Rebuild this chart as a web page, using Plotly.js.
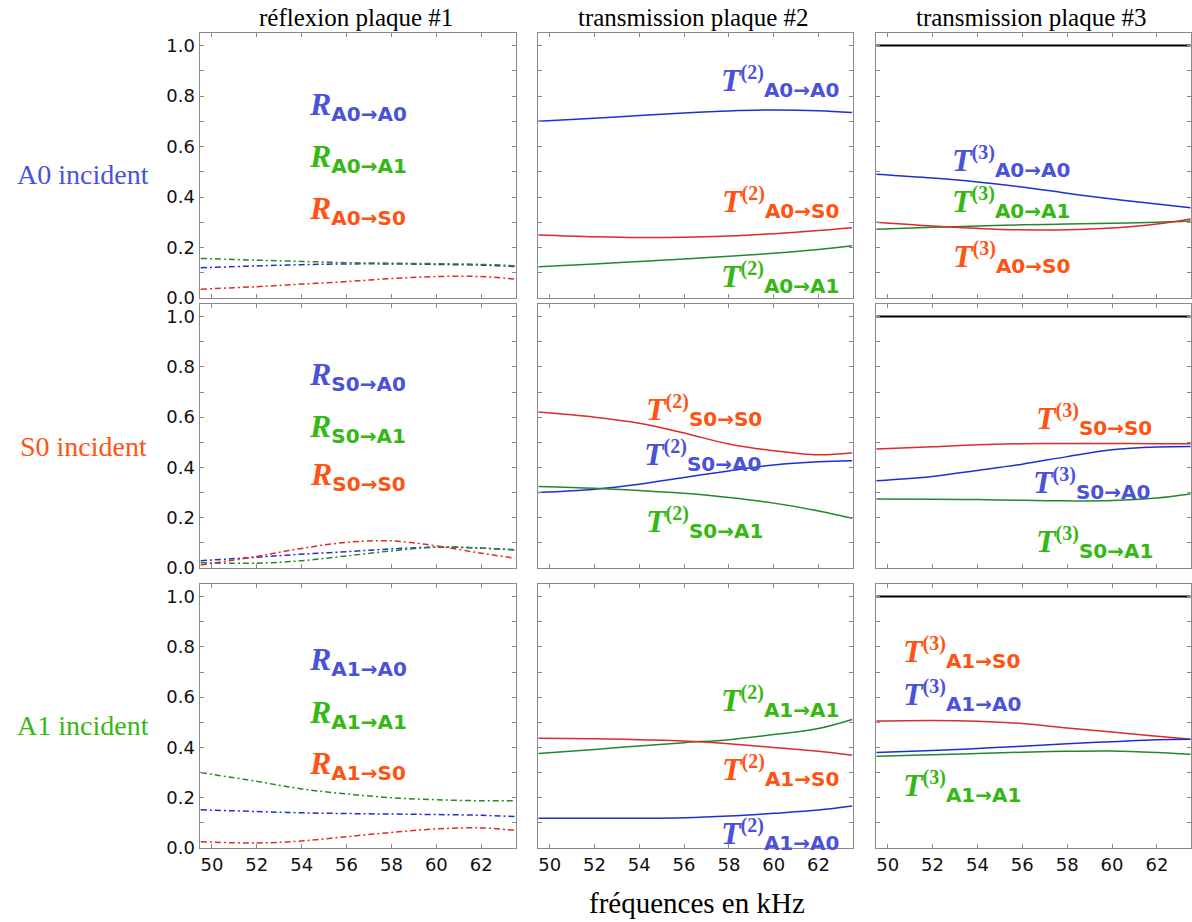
<!DOCTYPE html>
<html>
<head>
<meta charset="utf-8">
<script src="https://cdn.plot.ly/plotly-3.0.1.min.js"></script>
<style>html,body{margin:0;padding:0;background:#fff;}#chart{width:1192px;height:922px;}</style>
</head>
<body>
<div id="chart"></div>
<script>
// ---------- data ----------
var freq = [49.5, 52, 54, 56, 58, 60, 62, 63.5];
var xTickVals = [50, 52, 54, 56, 58, 60, 62];
var colTitles = ['réflexion plaque #1', 'transmission plaque #2', 'transmission plaque #3'];
var rowLabels = ['A0 incident', 'S0 incident', 'A1 incident'];
var xAxisTitle = 'fréquences en kHz';
var modeNames = ['A0', 'S0', 'A1'];

// Row A0 incident
var R_A0_A0 = [0.120, 0.127, 0.132, 0.135, 0.135, 0.133, 0.130, 0.125];
var R_A0_A1 = [0.157, 0.150, 0.145, 0.140, 0.138, 0.136, 0.133, 0.128];
var R_A0_S0 = [0.035, 0.045, 0.055, 0.065, 0.077, 0.085, 0.085, 0.075];
var T2_A0_A0 = [0.700, 0.712, 0.723, 0.733, 0.741, 0.745, 0.742, 0.735];
var T2_A0_S0 = [0.250, 0.243, 0.240, 0.241, 0.246, 0.255, 0.267, 0.278];
var T2_A0_A1 = [0.124, 0.135, 0.145, 0.155, 0.165, 0.177, 0.192, 0.207];
var T3_A0_A0 = [0.490, 0.475, 0.460, 0.440, 0.415, 0.392, 0.372, 0.358];
var T3_A0_A1 = [0.272, 0.280, 0.285, 0.290, 0.293, 0.296, 0.300, 0.305];
var T3_A0_S0 = [0.300, 0.285, 0.276, 0.270, 0.270, 0.277, 0.293, 0.313];

// Row S0 incident
var R_S0_A0 = [0.029, 0.043, 0.055, 0.065, 0.076, 0.083, 0.079, 0.072];
var R_S0_A1 = [0.021, 0.019, 0.029, 0.048, 0.068, 0.083, 0.079, 0.072];
var R_S0_S0 = [0.012, 0.046, 0.078, 0.102, 0.108, 0.088, 0.059, 0.039];
var T2_S0_S0 = [0.620, 0.600, 0.576, 0.537, 0.493, 0.466, 0.450, 0.458];
var T2_S0_A0 = [0.300, 0.313, 0.333, 0.360, 0.386, 0.410, 0.423, 0.427];
var T2_S0_A1 = [0.324, 0.317, 0.308, 0.297, 0.280, 0.258, 0.227, 0.198];
var T3_S0_S0 = [0.473, 0.482, 0.490, 0.494, 0.495, 0.495, 0.494, 0.494];
var T3_S0_A0 = [0.347, 0.364, 0.388, 0.413, 0.443, 0.470, 0.481, 0.483];
var T3_S0_A1 = [0.274, 0.273, 0.272, 0.269, 0.267, 0.268, 0.278, 0.294];

// Row A1 incident
var R_A1_A0 = [0.152, 0.145, 0.140, 0.137, 0.135, 0.133, 0.130, 0.125];
var R_A1_A1 = [0.300, 0.265, 0.235, 0.215, 0.200, 0.192, 0.188, 0.188];
var R_A1_S0 = [0.025, 0.020, 0.028, 0.045, 0.062, 0.076, 0.080, 0.070];
var T2_A1_A1 = [0.376, 0.392, 0.406, 0.419, 0.431, 0.451, 0.475, 0.511];
var T2_A1_S0 = [0.437, 0.435, 0.431, 0.426, 0.415, 0.400, 0.385, 0.369];
var T2_A1_A0 = [0.118, 0.118, 0.118, 0.120, 0.127, 0.138, 0.151, 0.167];
var T3_A1_S0 = [0.505, 0.507, 0.504, 0.495, 0.477, 0.461, 0.444, 0.433];
var T3_A1_A0 = [0.380, 0.388, 0.396, 0.405, 0.415, 0.423, 0.431, 0.433];
var T3_A1_A1 = [0.365, 0.371, 0.376, 0.381, 0.385, 0.386, 0.380, 0.373];

// energy sum reference line (plate #3 column)
var totalEnergy = [1, 1, 1, 1, 1, 1, 1, 1];

// label positions (data coords: [freq, value])
var labelPos = {
  R_A0_A0: [56.5, 0.762], R_A0_A1: [56.5, 0.553], R_A0_S0: [56.5, 0.347],
  T2_A0_A0: [60.3, 0.857], T2_A0_S0: [60.3, 0.377], T2_A0_A1: [60.3, 0.083],
  T3_A0_A0: [55.5, 0.540], T3_A0_A1: [55.5, 0.377], T3_A0_S0: [55.5, 0.159],
  R_S0_A0: [56.5, 0.762], R_S0_A1: [56.5, 0.555], R_S0_S0: [56.5, 0.367],
  T2_S0_S0: [56.9, 0.625], T2_S0_A0: [56.8, 0.446], T2_S0_A1: [56.9, 0.179],
  T3_S0_S0: [59.2, 0.590], T3_S0_A0: [59.1, 0.336], T3_S0_A1: [59.2, 0.100],
  R_A1_A0: [56.5, 0.743], R_A1_A1: [56.5, 0.533], R_A1_S0: [56.5, 0.330],
  T2_A1_A1: [60.3, 0.583], T2_A1_S0: [60.3, 0.310], T2_A1_A0: [60.3, 0.052],
  T3_A1_S0: [53.3, 0.779], T3_A1_A0: [53.3, 0.607], T3_A1_A1: [53.3, 0.243]
};

// ---------- styles ----------
var lineColor = {A0: '#1f2fcf', A1: '#22882a', S0: '#dd2a2a'};
var textColor = {A0: '#4a52d8', A1: '#36b814', S0: '#ff5314'};
var rowColor = ['#4a52d8', '#ff5314', '#36b814'];

var panels = [
  [{kind: 'R', series: [['A0', R_A0_A0], ['A1', R_A0_A1], ['S0', R_A0_S0]], inc: 'A0'},
   {kind: 'T2', series: [['A0', T2_A0_A0], ['S0', T2_A0_S0], ['A1', T2_A0_A1]], inc: 'A0'},
   {kind: 'T3', series: [['A0', T3_A0_A0], ['A1', T3_A0_A1], ['S0', T3_A0_S0]], inc: 'A0'}],
  [{kind: 'R', series: [['A0', R_S0_A0], ['A1', R_S0_A1], ['S0', R_S0_S0]], inc: 'S0'},
   {kind: 'T2', series: [['S0', T2_S0_S0], ['A0', T2_S0_A0], ['A1', T2_S0_A1]], inc: 'S0'},
   {kind: 'T3', series: [['S0', T3_S0_S0], ['A0', T3_S0_A0], ['A1', T3_S0_A1]], inc: 'S0'}],
  [{kind: 'R', series: [['A0', R_A1_A0], ['A1', R_A1_A1], ['S0', R_A1_S0]], inc: 'A1'},
   {kind: 'T2', series: [['A1', T2_A1_A1], ['S0', T2_A1_S0], ['A0', T2_A1_A0]], inc: 'A1'},
   {kind: 'T3', series: [['S0', T3_A1_S0], ['A0', T3_A1_A0], ['A1', T3_A1_A1]], inc: 'A1'}]
];

var W = 1192, H = 922;
var colPx = [[200, 516], [538, 853], [876, 1191]];
var rowPx = [[33, 298], [304, 568], [584, 848]];
var xRanges = [[49.47, 63.55], [49.48, 63.54], [49.48, 63.52]];

var SERIF = "'Liberation Serif', 'DejaVu Serif', serif";
var SANS = "'DejaVu Sans', Verdana, sans-serif";

function labelHtml(kind, inc, out) {
  var sub = '<sub><span style="font-family:DejaVu Sans;font-weight:bold;font-size:20px">' + inc + '→' + out + '</span></sub>';
  var letter = kind === 'R' ? 'R' : 'T';
  var main = '<span style="font-family:Liberation Serif;font-weight:bold;font-style:italic;font-size:32px">' + letter + '</span>';
  if (kind === 'R') return main + sub;
  var n = kind === 'T2' ? '2' : '3';
  return main + '<sup><span style="font-family:Liberation Serif;font-weight:bold;font-size:20px">(' + n + ')</span></sup>' + sub;
}

var traces = [];
var layout = {
  width: W, height: H,
  margin: {l: 0, r: 0, t: 0, b: 0},
  paper_bgcolor: '#ffffff', plot_bgcolor: '#ffffff',
  showlegend: false,
  annotations: [],
  font: {family: SANS, size: 18, color: '#111'}
};

for (var r = 0; r < 3; r++) {
  for (var c = 0; c < 3; c++) {
    var k = r * 3 + c + 1;
    var xa = 'x' + (k === 1 ? '' : k), ya = 'y' + (k === 1 ? '' : k);
    var xname = 'xaxis' + (k === 1 ? '' : k), yname = 'yaxis' + (k === 1 ? '' : k);
    var common = {
      showline: true, mirror: 'ticks', linecolor: '#8a8a8a', linewidth: 1.4,
      ticks: 'inside', ticklen: 4, tickcolor: '#8a8a8a', tickwidth: 1,
      showgrid: false, zeroline: false,
      tickfont: {family: SANS, size: 18, color: '#111'}
    };
    layout[xname] = Object.assign({}, common, {
      domain: [colPx[c][0] / W, colPx[c][1] / W],
      range: xRanges[c], anchor: ya,
      tickvals: xTickVals, ticktext: xTickVals.map(String),
      showticklabels: r === 2
    });
    layout[yname] = Object.assign({}, common, {
      domain: [1 - rowPx[r][1] / H, 1 - rowPx[r][0] / H],
      range: [0, 1.05], anchor: xa,
      tick0: 0, dtick: 0.2, tickformat: '.1f',
      minor: {dtick: 0.1, ticks: 'inside', ticklen: 4, tickcolor: '#8a8a8a', showgrid: false},
      showticklabels: c === 0
    });
    var p = panels[r][c];
    if (p.kind === 'T3') {
      traces.push({x: freq, y: totalEnergy, xaxis: xa, yaxis: ya, mode: 'lines',
        line: {color: '#000000', width: 2}, hoverinfo: 'skip'});
    }
    p.series.forEach(function (s) {
      traces.push({
        x: freq, y: s[1], xaxis: xa, yaxis: ya, mode: 'lines',
        line: {color: lineColor[s[0]], width: 1.5, shape: 'spline', smoothing: 1,
               dash: p.kind === 'R' ? '6px,3px,2px,3px' : 'solid'}
      });
      var key = p.kind + '_' + p.inc + '_' + s[0];
      var pos = labelPos[key];
      layout.annotations.push({
        xref: xa, yref: ya, x: pos[0], y: pos[1],
        text: labelHtml(p.kind, p.inc, s[0]),
        showarrow: false, xanchor: 'center', yanchor: 'middle',
        font: {family: SERIF, size: 28, color: textColor[s[0]]}
      });
    });
  }
}

colTitles.forEach(function (t, c) {
  layout.annotations.push({
    xref: 'paper', yref: 'paper', x: ((colPx[c][0] + colPx[c][1]) / 2 - 2) / W, y: 1 - 17 / H,
    text: t, showarrow: false, xanchor: 'center', yanchor: 'middle',
    font: {family: SERIF, size: 25, color: '#000'}
  });
});
rowLabels.forEach(function (t, r) {
  var yc = [175, 446, 725][r];
  layout.annotations.push({
    xref: 'paper', yref: 'paper', x: 83 / W, y: 1 - yc / H,
    text: t, showarrow: false, xanchor: 'center', yanchor: 'middle',
    font: {family: SERIF, size: 28, color: rowColor[r]}
  });
});
layout.annotations.push({
  xref: 'paper', yref: 'paper', x: 697 / W, y: 1 - 903 / H,
  text: xAxisTitle, showarrow: false, xanchor: 'center', yanchor: 'middle',
  font: {family: SERIF, size: 29, color: '#000'}
});

Plotly.newPlot('chart', traces, layout, {staticPlot: true, displayModeBar: false});
</script>
</body>
</html>
